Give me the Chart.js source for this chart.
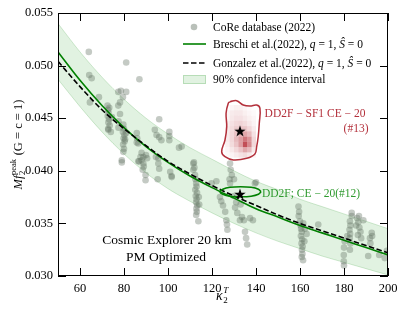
<!DOCTYPE html>
<html lang="en">
<head>
<meta charset="UTF-8" />
<title>Mf2 peak vs kappa2T</title>
<script src="https://cdn.jsdelivr.net/npm/chart.js"></script>
<style>
  html, body { margin: 0; padding: 0; background: #fff; }
  #wrap { width: 407px; height: 314px; position: relative; }
</style>
</head>
<body>
<div id="wrap"><canvas id="chart"></canvas></div>
<script>
// axis ticks
const xTicks = [60, 80, 100, 120, 140, 160, 180, 200];
const yTicks = [0.030, 0.035, 0.040, 0.045, 0.050, 0.055];

// CoRe database points (kappa_2^T, M f_2^peak)
const coreKappa = [
  64.0, 64.2, 65.3, 64.5, 68.6, 81.0, 87.0,
  72.5, 72.8, 73.0, 72.6, 73.2, 72.9, 73.5, 72.8, 74.0, 73.3, 74.5, 72.9,
  77.4, 78.6, 81.0, 79.5, 78.2, 77.4, 78.2, 77.5, 77.5,
  79.7, 80.0, 79.5, 80.2, 79.8, 80.3, 79.6, 80.0, 79.7, 79.0, 79.0, 81.0, 80.5,
  86.5, 86.5, 88.8, 85.8, 86.0, 85.8, 90.0, 90.5, 87.5, 88.0, 88.8, 89.0, 88.5, 89.8, 89.8, 86.9, 88.0,
  96.0, 94.8, 96.0, 97.0, 94.0, 94.5, 95.6, 95.6, 96.0, 95.3,
  100.6, 100.6, 100.6, 101.0, 101.6, 101.7, 105.0, 106.2,
  111.5, 111.8, 112.0, 111.5, 112.3, 112.5, 112.8, 113.0, 112.4, 113.2, 112.6, 113.0, 112.8, 113.3, 112.9, 113.1, 112.8, 113.8, 114.0, 114.2,
  119.8, 122.0,
  123.6, 124.2, 125.0, 126.0, 126.5, 127.0, 126.8,
  128.2, 128.5, 129.0, 128.0, 128.2, 130.0,
  130.5, 131.5, 132.7, 131.0, 133.6, 134.5, 135.0, 135.5, 136.0, 130.0, 133.0,
  137.3, 138.6, 139.5, 140.0,
  159.3, 159.6, 159.4, 160.0, 160.3, 160.5, 160.8, 160.4, 161.0, 160.7, 161.2, 160.9, 161.1, 160.8, 161.4, 161.5, 162.2, 163.0, 162.0,
  168.3,
  183.5, 183.5, 182.7, 182.9, 182.5, 182.8, 182.6, 182.9, 182.7, 180.3, 180.0, 179.9, 179.9, 180.0, 181.5,
  186.0, 186.5, 187.0, 187.5, 186.3, 188.8, 186.8, 185.5, 187.8,
  191.8, 192.0, 192.6, 192.8,
  191.0, 196.0, 199.5, 198.5
];
const coreF = [
  0.0513, 0.0491, 0.0488, 0.0465, 0.0470, 0.0503, 0.0487,
  0.0462, 0.0458, 0.0455, 0.0452, 0.0449, 0.0446, 0.0443, 0.0440, 0.0437, 0.0460, 0.0451, 0.0439,
  0.0475, 0.0476, 0.0475, 0.0470, 0.0465, 0.0462, 0.0454, 0.0447, 0.0441,
  0.0444, 0.0440, 0.0437, 0.0434, 0.0431, 0.0428, 0.0425, 0.0421, 0.0418, 0.0410, 0.0408, 0.0436, 0.0430,
  0.0426, 0.0409, 0.0413, 0.0436, 0.0431, 0.0427, 0.0415, 0.0412, 0.0413, 0.0410, 0.0407, 0.0404, 0.0401, 0.0396, 0.0391, 0.0409, 0.0417,
  0.0449, 0.0434, 0.0432, 0.0429, 0.0439, 0.0413, 0.0412, 0.0407, 0.0402, 0.0392,
  0.0437, 0.0433, 0.0429, 0.0399, 0.0395, 0.0394, 0.0422, 0.0423,
  0.0407, 0.0408, 0.0403, 0.0401, 0.0396, 0.0392, 0.0388, 0.0385, 0.0382, 0.0379, 0.0376, 0.0373, 0.0370, 0.0367, 0.0364, 0.0361, 0.0358, 0.0352, 0.0375, 0.0368,
  0.0388, 0.0390,
  0.0375, 0.0371, 0.0367, 0.0361, 0.0353, 0.0344, 0.0349,
  0.0407, 0.0401, 0.0396, 0.0392, 0.0388, 0.0392,
  0.0365, 0.0360, 0.0353, 0.0370, 0.0356, 0.0353, 0.0342, 0.0336, 0.0330, 0.0376, 0.0368,
  0.0355, 0.0353, 0.0388, 0.0389,
  0.0366, 0.0361, 0.0357, 0.0352, 0.0348, 0.0345, 0.0342, 0.0338, 0.0335, 0.0331, 0.0328, 0.0325, 0.0321, 0.0318, 0.0315, 0.0350, 0.0345, 0.0340, 0.0333,
  0.0349,
  0.0360, 0.0357, 0.0352, 0.0348, 0.0344, 0.0340, 0.0336, 0.0331, 0.0325, 0.0333, 0.0327, 0.0320, 0.0314, 0.0310, 0.0338,
  0.0355, 0.0351, 0.0346, 0.0342, 0.0339, 0.0353, 0.0357, 0.0348, 0.0336,
  0.0336, 0.0331, 0.0341, 0.0338,
  0.0319, 0.0320, 0.0324, 0.0317
];

// fits and 90% band
const fitKappa  = [50, 60, 70, 80, 90, 100, 110, 120, 130, 140, 150, 160, 170, 180, 190, 200];
const breschiF  = [0.0513, 0.0486, 0.0462, 0.0441, 0.0423, 0.0408, 0.0395, 0.0384, 0.0374, 0.0364, 0.0356, 0.0348, 0.0341, 0.0334, 0.0327, 0.0320];
const gonzalezF = [0.0504, 0.0480, 0.0458, 0.0440, 0.0424, 0.0409, 0.0397, 0.0386, 0.0376, 0.0367, 0.0358, 0.0350, 0.0343, 0.0336, 0.0329, 0.0322];
const bandUpper = [0.0540, 0.0513, 0.0489, 0.0468, 0.0450, 0.0435, 0.0422, 0.0411, 0.0400, 0.0390, 0.0382, 0.0373, 0.0366, 0.0359, 0.0352, 0.0345];
const bandLower = [0.0487, 0.0461, 0.0437, 0.0416, 0.0398, 0.0383, 0.0371, 0.0360, 0.0350, 0.0341, 0.0333, 0.0326, 0.0319, 0.0313, 0.0307, 0.0301];

// DD2F-SF1 CE-20 (#13) 90% contour
const sf1Kappa = [128.2, 131.2, 134.2, 137.3, 140.3, 141.8, 141.5, 141.0, 140.3, 139.5, 135.8, 129.7, 125.9, 124.4, 125.9, 126.7, 126.4, 127.4, 128.2];
const sf1F     = [0.04657, 0.04666, 0.04625, 0.04616, 0.04625, 0.04594, 0.04452, 0.04324, 0.04229, 0.04160, 0.04119, 0.04103, 0.04134, 0.04182, 0.04293, 0.04419, 0.04547, 0.04642, 0.04657];

// DD2F-SF1 posterior density cells
const heatKappa = [127, 129, 131, 133, 135, 137, 139];
const heatF = [0.0460, 0.0455, 0.0450, 0.0445, 0.0440, 0.0435, 0.0430, 0.0425, 0.0420, 0.0415];
const heatLevel = [
  [0.00, 0.05, 0.08, 0.08, 0.05, 0.03, 0.00],
  [0.05, 0.10, 0.12, 0.12, 0.08, 0.05, 0.03],
  [0.05, 0.12, 0.15, 0.15, 0.12, 0.08, 0.05],
  [0.08, 0.15, 0.20, 0.22, 0.18, 0.12, 0.06],
  [0.10, 0.18, 0.25, 0.30, 0.28, 0.20, 0.10],
  [0.10, 0.20, 0.30, 0.40, 0.45, 0.35, 0.15],
  [0.10, 0.20, 0.35, 0.50, 0.70, 0.55, 0.20],
  [0.08, 0.18, 0.30, 0.50, 0.90, 0.60, 0.20],
  [0.05, 0.12, 0.20, 0.30, 0.45, 0.35, 0.12],
  [0.03, 0.06, 0.10, 0.15, 0.18, 0.12, 0.05]
];

// DD2F CE-20 (#12) contour
const ce20Kappa = [142.3, 141.1, 137.8, 133.0, 128.2, 124.9, 123.6, 124.9, 128.2, 133.0, 137.8, 141.1, 142.3];
const ce20F     = [0.03801, 0.03825, 0.03843, 0.03849, 0.03843, 0.03825, 0.03801, 0.03777, 0.03759, 0.03754, 0.03759, 0.03777, 0.03801];

// injected values
const starKappa = [132.7, 132.7];
const starF = [0.0438, 0.0378];

const pts = (xs, ys) => xs.map((v, i) => ({ x: v, y: ys[i] }));

const SERIF = '"Liberation Serif", "Times New Roman", serif';
Chart.defaults.font.family = SERIF;
Chart.defaults.color = '#000';

function makeStar(size) {
  const c = document.createElement('canvas');
  c.width = c.height = size;
  const g = c.getContext('2d');
  g.beginPath();
  for (let i = 0; i < 10; i++) {
    const r = i % 2 ? size * 0.2 : size * 0.5;
    const a = -Math.PI / 2 + i * Math.PI / 5;
    g.lineTo(size / 2 + r * Math.cos(a), size / 2 + r * Math.sin(a) + size * 0.05);
  }
  g.closePath();
  g.fillStyle = '#000';
  g.fill();
  return c;
}
const starImg = makeStar(12);

function drawRich(ctx, parts, x, y) {
  let cx = x;
  parts.forEach(([t, f, dy]) => {
    ctx.font = f;
    ctx.fillText(t, cx, y + (dy || 0));
    cx += ctx.measureText(t).width;
  });
  return cx;
}

const decor = {
  id: 'decor',
  beforeDatasetsDraw(chart) {
    const { ctx, scales: { x, y } } = chart;
    ctx.save();
    heatLevel.forEach((row, r) => row.forEach((a, c) => {
      if (a <= 0) return;
      const x0 = x.getPixelForValue(heatKappa[c] - 1);
      const x1 = x.getPixelForValue(heatKappa[c] + 1);
      const y0 = y.getPixelForValue(heatF[r] + 0.00025);
      const y1 = y.getPixelForValue(heatF[r] - 0.00025);
      ctx.fillStyle = `rgba(175,25,35,${(a * 0.85).toFixed(3)})`;
      ctx.fillRect(x0, y0, x1 - x0, y1 - y0);
    }));
    ctx.restore();
  },
  afterDraw(chart) {
    const { ctx, chartArea: a, scales: { x, y } } = chart;
    ctx.save();
    // frame and inward ticks on all sides
    ctx.strokeStyle = '#000';
    ctx.lineWidth = 1;
    ctx.strokeRect(a.left + 0.5, a.top + 0.5, a.right - a.left - 1, a.bottom - a.top - 1);
    ctx.beginPath();
    xTicks.forEach(v => {
      const px = Math.round(x.getPixelForValue(v)) + 0.5;
      ctx.moveTo(px, a.bottom); ctx.lineTo(px, a.bottom - 8);
      ctx.moveTo(px, a.top); ctx.lineTo(px, a.top + 8);
    });
    yTicks.forEach(v => {
      const py = Math.round(y.getPixelForValue(v)) + 0.5;
      ctx.moveTo(a.left, py); ctx.lineTo(a.left + 8, py);
      ctx.moveTo(a.right, py); ctx.lineTo(a.right - 8, py);
    });
    ctx.stroke();

    // legend
    const R = '11.5px ' + SERIF, I = 'italic 11.5px ' + SERIF;
    const lx = a.left + 125, tx = a.left + 155;
    ctx.fillStyle = '#000';
    ctx.textBaseline = 'alphabetic';
    ctx.beginPath();
    ctx.arc(lx + 11, a.top + 14, 3.3, 0, Math.PI * 2);
    ctx.fillStyle = 'rgba(100,115,100,0.45)';
    ctx.fill();
    ctx.fillStyle = '#000';
    drawRich(ctx, [['CoRe database (2022)', R]], tx, a.top + 18);

    ctx.strokeStyle = '#008000'; ctx.lineWidth = 1.6;
    ctx.beginPath(); ctx.moveTo(lx, a.top + 31); ctx.lineTo(lx + 23, a.top + 31); ctx.stroke();
    drawRich(ctx, [['Breschi et al.(2022), ', R], ['q', I], [' = 1, ', R], ['Ŝ', I], [' = 0', R]], tx, a.top + 35);

    ctx.strokeStyle = '#000'; ctx.setLineDash([5.5, 2.5]);
    ctx.beginPath(); ctx.moveTo(lx, a.top + 50); ctx.lineTo(lx + 23, a.top + 50); ctx.stroke();
    ctx.setLineDash([]);
    drawRich(ctx, [['Gonzalez et al.(2022), ', R], ['q', I], [' = 1, ', R], ['Ŝ', I], [' = 0', R]], tx, a.top + 54);

    ctx.fillStyle = 'rgba(76,175,80,0.17)';
    ctx.fillRect(lx, a.top + 62, 23, 9);
    ctx.strokeStyle = 'rgba(60,160,60,0.25)'; ctx.lineWidth = 1;
    ctx.strokeRect(lx + 0.5, a.top + 62.5, 22, 8);
    ctx.fillStyle = '#000';
    drawRich(ctx, [['90% confidence interval', R]], tx, a.top + 70);

    // annotations
    ctx.textAlign = 'center';
    ctx.font = '13.5px ' + SERIF;
    ctx.fillText('Cosmic Explorer 20 km', a.left + 109, a.top + 231);
    ctx.fillText('PM Optimized', a.left + 108, a.top + 248);

    ctx.fillStyle = '#b3303b';
    ctx.font = '11.5px ' + SERIF;
    ctx.fillText('DD2F − SF1 CE − 20', a.left + 257, a.top + 104);
    ctx.fillText('(#13)', a.left + 298, a.top + 119);

    ctx.textAlign = 'left';
    ctx.fillStyle = '#2e9a2e';
    ctx.fillText('DD2F; CE − 20(#12)', a.left + 204, a.top + 184);

    // x title
    ctx.fillStyle = '#000';
    const cx = (a.left + a.right) / 2 - 7;
    ctx.font = 'italic 14px ' + SERIF;
    ctx.fillText('κ', cx, 300);
    const kw = ctx.measureText('κ').width;
    ctx.font = '9px ' + SERIF;
    ctx.fillText('2', cx + kw + 0.5, 303);
    ctx.font = 'italic 9px ' + SERIF;
    ctx.fillText('T', cx + kw + 0.5, 293);

    // y title (rotated)
    ctx.translate(22, (a.top + a.bottom) / 2);
    ctx.rotate(-Math.PI / 2);
    const big = 12.5, small = 8.5;
    ctx.font = 'italic ' + big + 'px ' + SERIF;
    const mw = ctx.measureText('Mf').width;
    ctx.font = small + 'px ' + SERIF;
    const pw = ctx.measureText('peak').width;
    ctx.font = big + 'px ' + SERIF;
    const gw = ctx.measureText(' (G = c = 1)').width;
    let ux = -(mw + pw + 1 + gw) / 2;
    ctx.font = 'italic ' + big + 'px ' + SERIF;
    ctx.fillText('Mf', ux, 0);
    ux += mw + 0.5;
    ctx.font = small + 'px ' + SERIF;
    ctx.fillText('2', ux, 3);
    ctx.fillText('peak', ux, -6);
    ux += pw + 0.5;
    ctx.font = big + 'px ' + SERIF;
    ctx.fillText(' (G = c = 1)', ux, 0);
    ctx.restore();
  }
};

new Chart(document.getElementById('chart'), {
  type: 'scatter',
  data: {
    datasets: [
      {
        type: 'line', data: pts(fitKappa, bandUpper), fill: '+1',
        backgroundColor: 'rgba(76,175,80,0.17)', borderColor: 'rgba(60,160,60,0.22)', borderWidth: 1,
        pointRadius: 0, cubicInterpolationMode: 'monotone', order: 10
      },
      {
        type: 'line', data: pts(fitKappa, bandLower), fill: false,
        borderColor: 'rgba(60,160,60,0.22)', borderWidth: 1,
        pointRadius: 0, cubicInterpolationMode: 'monotone', order: 10
      },
      {
        data: pts(coreKappa, coreF), backgroundColor: 'rgba(100,115,100,0.38)',
        borderWidth: 0, pointRadius: 3.3, order: 8
      },
      {
        type: 'line', data: pts(fitKappa, breschiF), borderColor: '#008000', borderWidth: 1.6,
        pointRadius: 0, cubicInterpolationMode: 'monotone', fill: false, order: 6
      },
      {
        type: 'line', data: pts(fitKappa, gonzalezF), borderColor: '#000', borderWidth: 1.6,
        borderDash: [5.5, 2.5], pointRadius: 0, cubicInterpolationMode: 'monotone', fill: false, order: 5
      },
      {
        type: 'line', data: pts(sf1Kappa, sf1F), borderColor: '#b3303b', borderWidth: 1.5,
        pointRadius: 0, tension: 0.4, fill: false, order: 3
      },
      {
        type: 'line', data: pts(ce20Kappa, ce20F), borderColor: '#008000', borderWidth: 1.5,
        backgroundColor: 'rgba(0,128,0,0.14)', fill: true,
        pointRadius: 0, tension: 0.4, order: 3
      },
      {
        data: pts(starKappa, starF), pointStyle: starImg, pointRadius: 6, order: 1
      }
    ]
  },
  options: {
    responsive: true,
    maintainAspectRatio: false,
    animation: false,
    devicePixelRatio: 1,
    layout: { padding: { left: 0, top: 13, right: 19, bottom: 0 } },
    plugins: { legend: { display: false }, tooltip: { enabled: false } },
    scales: {
      x: {
        type: 'linear', min: 50, max: 200,
        afterBuildTicks: s => { s.ticks = xTicks.map(v => ({ value: v })); },
        afterFit: s => { s.height = 38; },
        grid: { display: false, drawTicks: false },
        border: { display: false },
        ticks: { font: { size: 12.5 }, padding: 5, color: '#000', maxRotation: 0 }
      },
      y: {
        type: 'linear', min: 0.030, max: 0.055,
        afterBuildTicks: s => { s.ticks = yTicks.map(v => ({ value: v })); },
        afterFit: s => { s.width = 58; },
        grid: { display: false, drawTicks: false },
        border: { display: false },
        ticks: { font: { size: 12.5 }, padding: 5, color: '#000', callback: v => v.toFixed(3) }
      }
    }
  },
  plugins: [decor]
});
</script>
</body>
</html>
